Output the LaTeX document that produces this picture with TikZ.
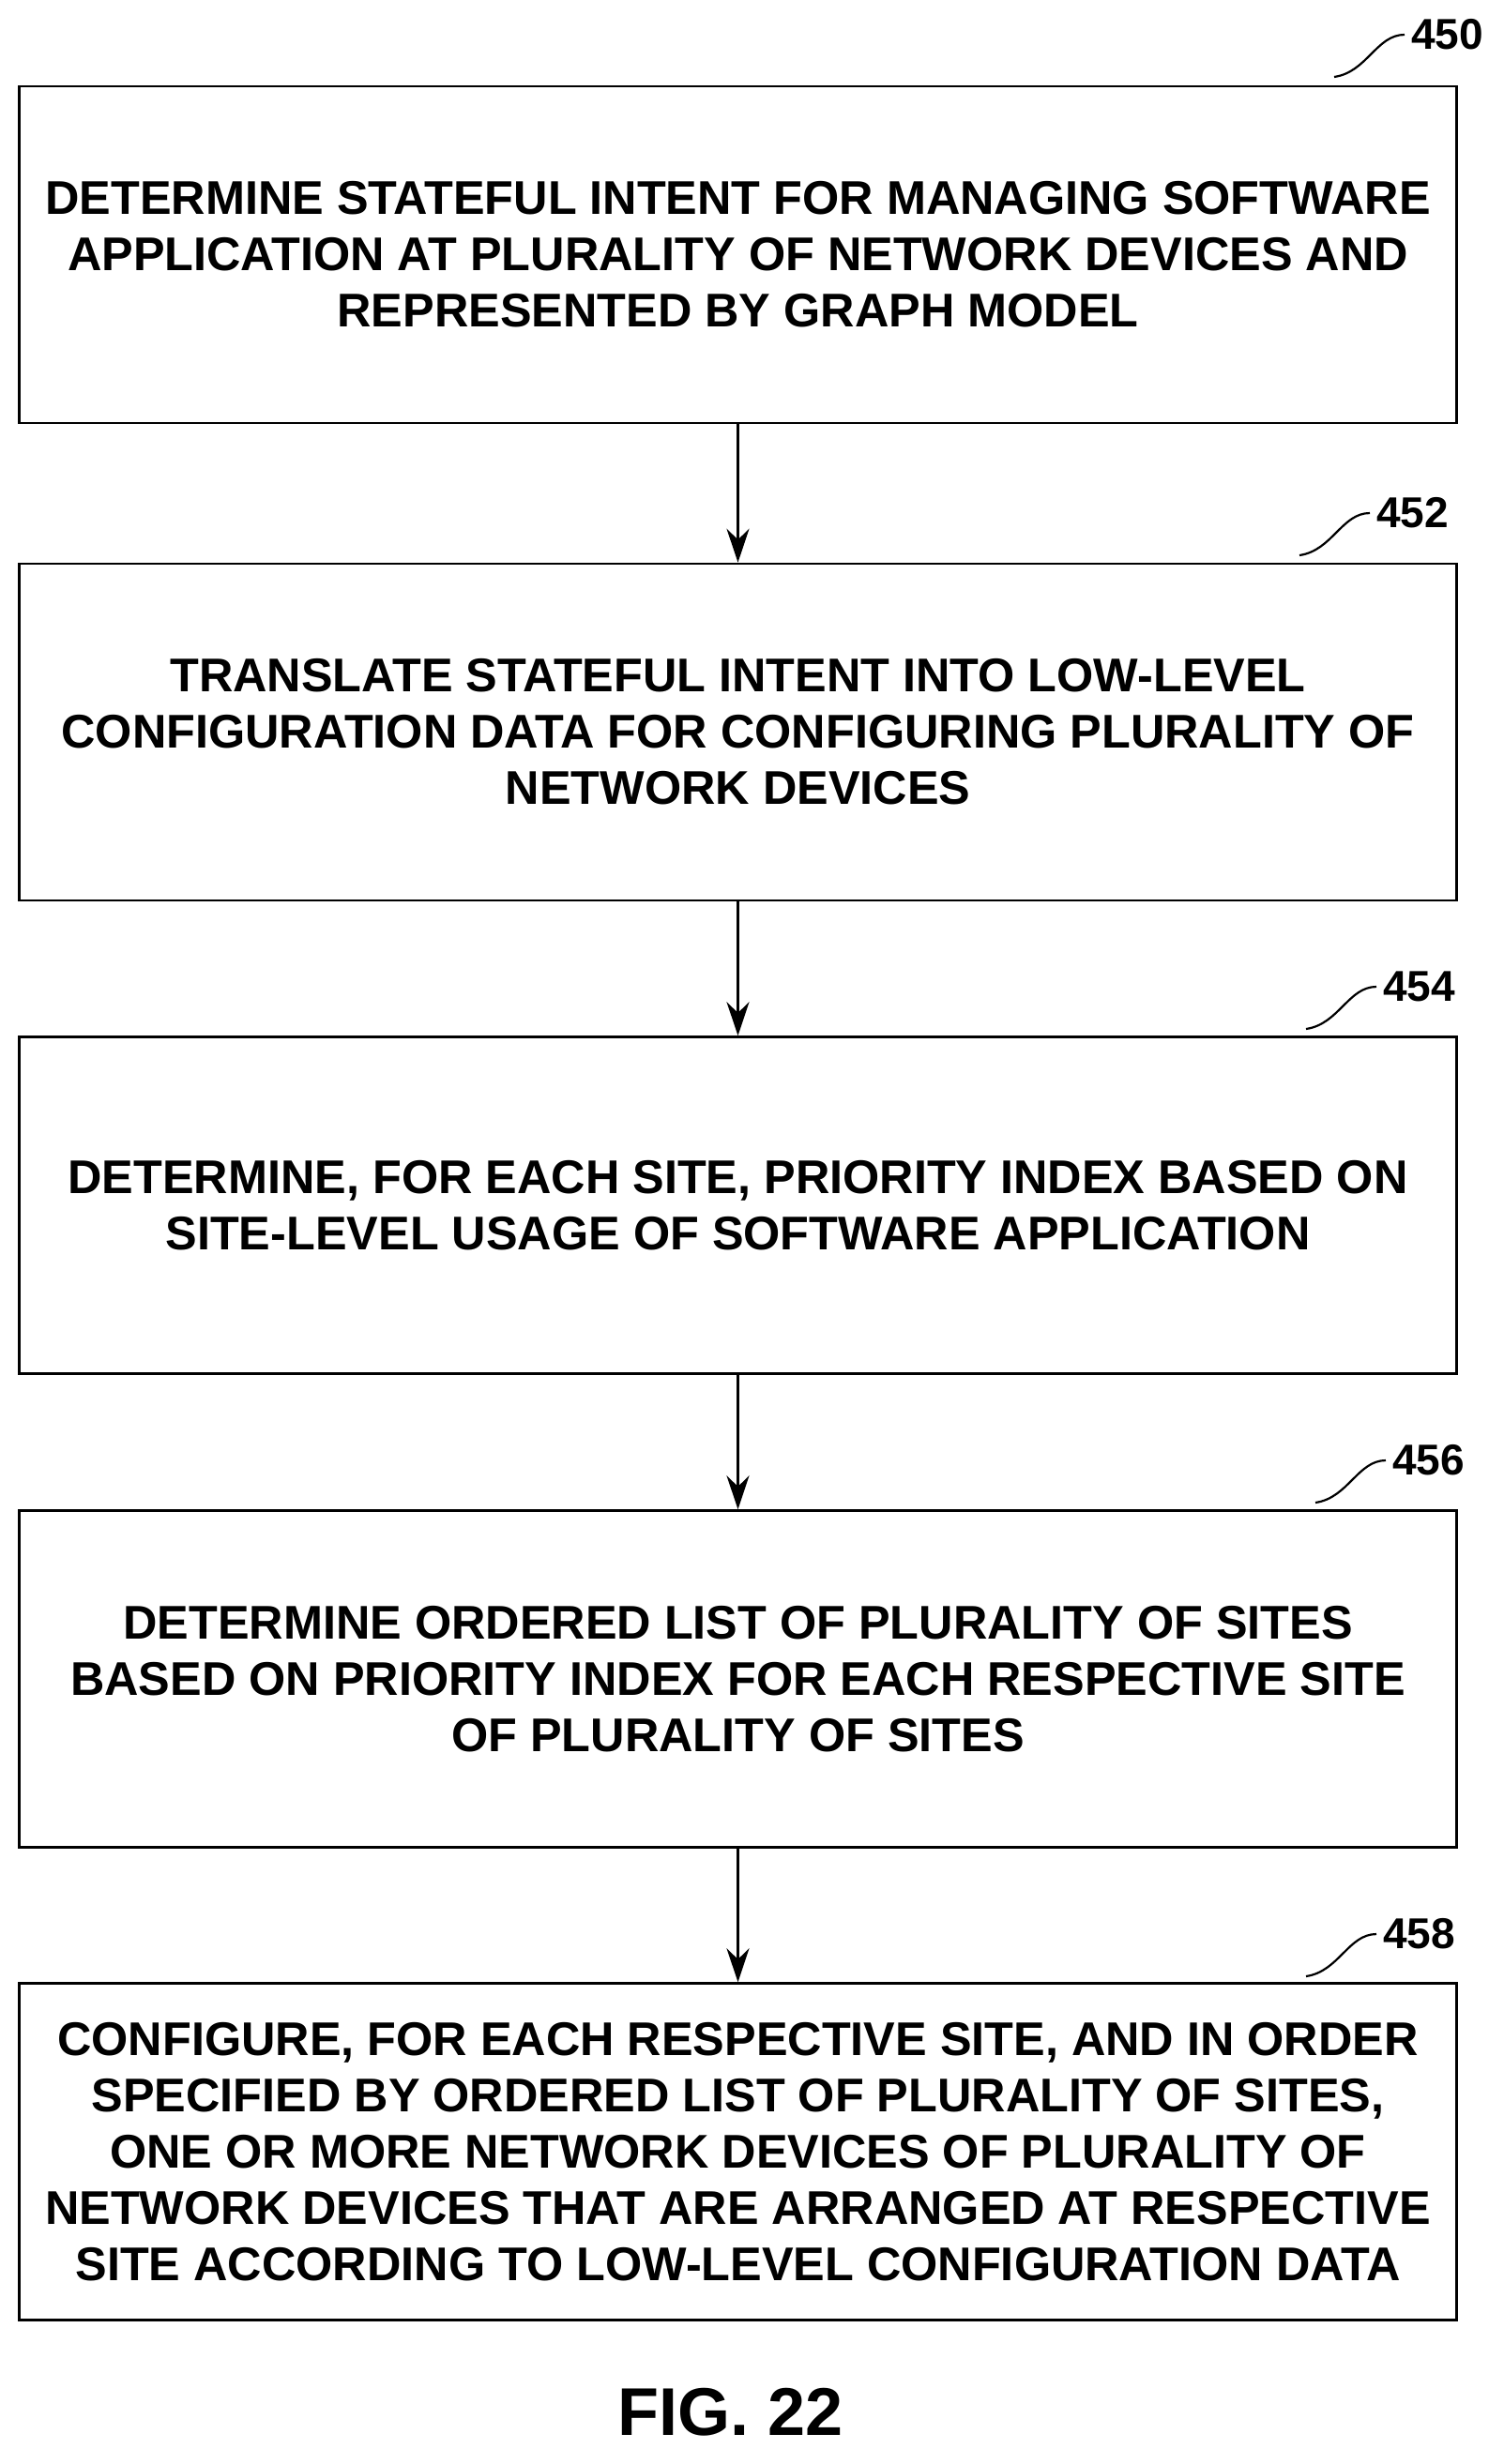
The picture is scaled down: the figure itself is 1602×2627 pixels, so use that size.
\documentclass[tikz,border=0pt]{standalone}
\usepackage{fontspec}
\setmainfont{Liberation Sans}
\usetikzlibrary{arrows.meta}
\begin{document}
\begin{tikzpicture}[x=0.5pt,y=-0.5pt,
 box/.style={draw,line width=1.3pt,minimum width=766pt,minimum height=179.5pt,align=center,font=\fontsize{25.2}{30}\selectfont\bfseries,inner sep=0pt},
 lbl/.style={font=\fontsize{23}{26}\selectfont\bfseries,anchor=west},
 arr/.style={line width=1.3pt,-{Stealth[length=18pt,width=12pt]}},
 lead/.style={line width=1.1pt}]
\useasboundingbox (0,0) rectangle (1602,2627);
\node[box] (b1) at (786.5,271.5) {DETERMINE STATEFUL INTENT FOR MANAGING SOFTWARE\\APPLICATION AT PLURALITY OF NETWORK DEVICES AND\\REPRESENTED BY GRAPH MODEL};
\node[box] (b2) at (786.5,780.5) {TRANSLATE STATEFUL INTENT INTO LOW-LEVEL\\CONFIGURATION DATA FOR CONFIGURING PLURALITY OF\\NETWORK DEVICES};
\node[box] (b3) at (786.5,1285) {DETERMINE, FOR EACH SITE, PRIORITY INDEX BASED ON\\SITE-LEVEL USAGE OF SOFTWARE APPLICATION};
\node[box] (b4) at (786.5,1790) {DETERMINE ORDERED LIST OF PLURALITY OF SITES\\BASED ON PRIORITY INDEX FOR EACH RESPECTIVE SITE\\OF PLURALITY OF SITES};
\node[box] (b5) at (786.5,2294) {CONFIGURE, FOR EACH RESPECTIVE SITE, AND IN ORDER\\SPECIFIED BY ORDERED LIST OF PLURALITY OF SITES,\\ONE OR MORE NETWORK DEVICES OF PLURALITY OF\\NETWORK DEVICES THAT ARE ARRANGED AT RESPECTIVE\\SITE ACCORDING TO LOW-LEVEL CONFIGURATION DATA};
\draw[arr] (b1) -- (b2);
\draw[arr] (b2) -- (b3);
\draw[arr] (b3) -- (b4);
\draw[arr] (b4) -- (b5);
\foreach \n/\y/\x in {450/37/1497,452/547/1460,454/1052/1467,456/1557/1477,458/2062/1467}{
 \node[lbl] (l\n) at (\x,\y) {\n};
 \draw[lead] (l\n.west) .. controls (\x-30,\y) and (\x-40,\y+40) .. (\x-75,\y+45);
}
\node[font=\fontsize{36}{40}\selectfont\bfseries] (fig) at (779,2572) {FIG. 22};
\end{tikzpicture}
\end{document}
